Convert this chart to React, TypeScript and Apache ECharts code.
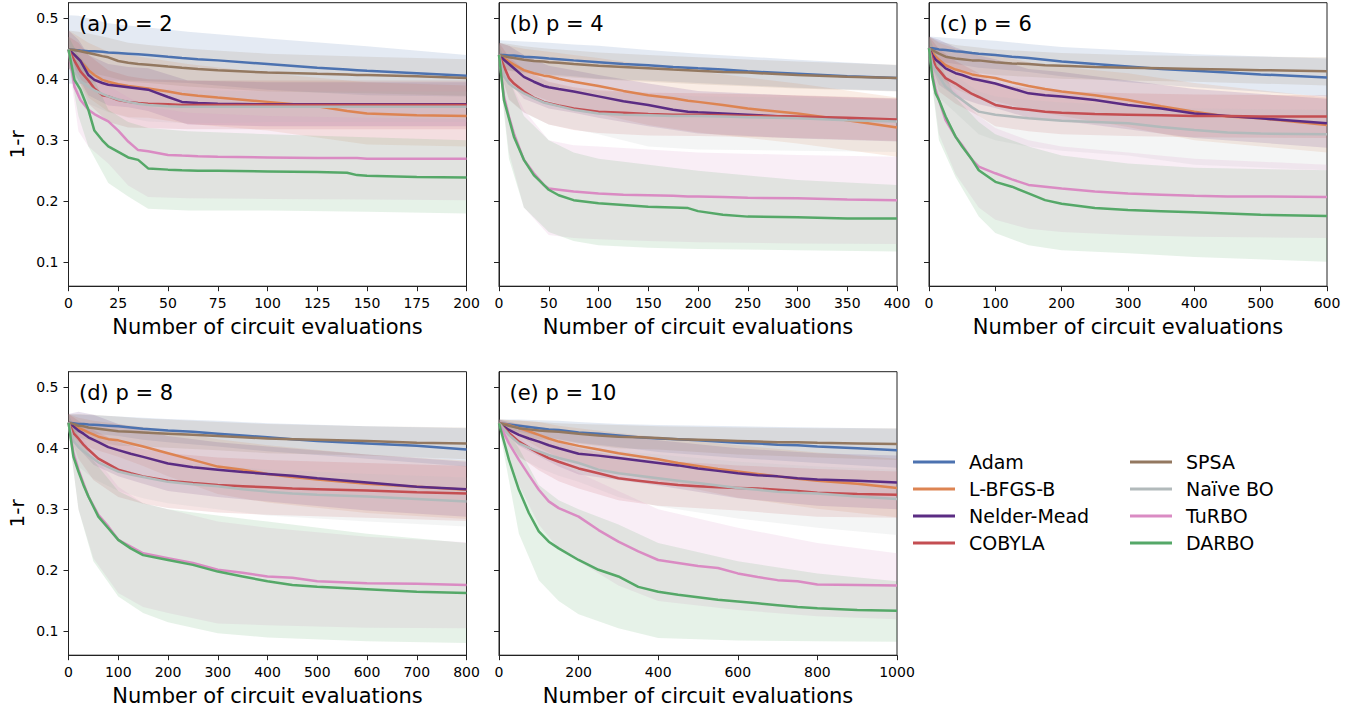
import React, { useEffect, useRef } from "react";
import * as echarts from "echarts";

// ---------- data ----------
const METHODS = ["Adam", "L-BFGS-B", "Nelder-Mead", "COBYLA", "SPSA", "Naïve BO", "TuRBO", "DARBO"];
const COLORS = ["#4C72B0", "#DD8452", "#5B2C83", "#C44E52", "#937860", "#B2BABB", "#DA8BC3", "#55A868"];
const PANEL_LABELS = ["(a) p = 2", "(b) p = 4", "(c) p = 6", "(d) p = 8", "(e) p = 10"];
const X_MAX = [200, 400, 600, 800, 1000];
const X_INTERVAL = [25, 50, 100, 100, 200];
const Y_TICKS = [0.1, 0.2, 0.3, 0.4, 0.5];
const Y_MIN = 0.061;
const Y_MAX = 0.5255;

// p = 2
const X2 = [0, 3, 6, 10, 13, 17, 20, 25, 30, 35, 40, 50, 57, 65, 75, 100, 125, 140, 145, 150, 175, 200];
const M2 = [
  [0.449, 0.448, 0.447, 0.446, 0.446, 0.445, 0.444, 0.443, 0.442, 0.441, 0.440, 0.437, 0.435, 0.433, 0.431, 0.425, 0.419, 0.416, 0.415, 0.414, 0.410, 0.406],
  [0.449, 0.440, 0.430, 0.415, 0.407, 0.399, 0.396, 0.392, 0.389, 0.387, 0.385, 0.380, 0.376, 0.373, 0.370, 0.363, 0.356, 0.348, 0.346, 0.344, 0.341, 0.340],
  [0.449, 0.440, 0.430, 0.407, 0.399, 0.394, 0.391, 0.389, 0.387, 0.385, 0.383, 0.371, 0.363, 0.361, 0.360, 0.359, 0.359, 0.359, 0.359, 0.359, 0.359, 0.359],
  [0.449, 0.430, 0.413, 0.398, 0.385, 0.374, 0.372, 0.366, 0.363, 0.361, 0.360, 0.359, 0.358, 0.358, 0.358, 0.358, 0.358, 0.358, 0.358, 0.358, 0.358, 0.358],
  [0.449, 0.448, 0.446, 0.443, 0.441, 0.438, 0.436, 0.430, 0.427, 0.425, 0.424, 0.421, 0.419, 0.417, 0.415, 0.411, 0.409, 0.408, 0.407, 0.407, 0.405, 0.402],
  [0.449, 0.415, 0.397, 0.388, 0.382, 0.376, 0.372, 0.367, 0.363, 0.360, 0.358, 0.356, 0.355, 0.355, 0.355, 0.355, 0.355, 0.355, 0.355, 0.355, 0.355, 0.355],
  [0.449, 0.388, 0.366, 0.350, 0.343, 0.336, 0.331, 0.316, 0.298, 0.284, 0.282, 0.276, 0.275, 0.274, 0.273, 0.272, 0.271, 0.271, 0.271, 0.270, 0.270, 0.270],
  [0.449, 0.399, 0.383, 0.350, 0.316, 0.300, 0.290, 0.281, 0.272, 0.268, 0.254, 0.252, 0.251, 0.250, 0.250, 0.249, 0.248, 0.247, 0.243, 0.242, 0.240, 0.239],
];
const BX2 = [0, 5, 10, 20, 30, 40, 60, 100, 150, 200];
const LO2 = [
  [0.393, 0.392, 0.394, 0.398, 0.398, 0.397, 0.394, 0.383, 0.374, 0.372],
  [0.418, 0.398, 0.370, 0.347, 0.338, 0.337, 0.327, 0.316, 0.293, 0.290],
  [0.418, 0.403, 0.374, 0.357, 0.354, 0.348, 0.326, 0.323, 0.323, 0.323],
  [0.428, 0.400, 0.360, 0.330, 0.321, 0.320, 0.318, 0.318, 0.318, 0.318],
  [0.418, 0.414, 0.411, 0.404, 0.396, 0.394, 0.388, 0.380, 0.377, 0.373],
  [0.430, 0.370, 0.360, 0.346, 0.337, 0.331, 0.328, 0.330, 0.330, 0.330],
  [0.430, 0.315, 0.290, 0.262, 0.226, 0.207, 0.205, 0.204, 0.203, 0.202],
  [0.430, 0.340, 0.290, 0.230, 0.208, 0.188, 0.185, 0.185, 0.183, 0.180],
];
const HI2 = [
  [0.505, 0.504, 0.500, 0.492, 0.488, 0.485, 0.478, 0.467, 0.454, 0.440],
  [0.480, 0.470, 0.460, 0.445, 0.440, 0.435, 0.425, 0.410, 0.395, 0.390],
  [0.480, 0.465, 0.440, 0.425, 0.420, 0.418, 0.398, 0.395, 0.395, 0.395],
  [0.470, 0.460, 0.440, 0.415, 0.405, 0.400, 0.398, 0.398, 0.398, 0.398],
  [0.480, 0.478, 0.475, 0.468, 0.460, 0.456, 0.450, 0.442, 0.437, 0.433],
  [0.470, 0.430, 0.415, 0.398, 0.390, 0.385, 0.382, 0.380, 0.380, 0.380],
  [0.470, 0.430, 0.410, 0.390, 0.370, 0.355, 0.345, 0.340, 0.337, 0.335],
  [0.470, 0.440, 0.420, 0.350, 0.330, 0.320, 0.315, 0.310, 0.305, 0.300],
];

// p = 4
const X4 = [0, 5, 10, 15, 25, 35, 45, 50, 60, 75, 100, 125, 150, 175, 190, 200, 225, 250, 300, 350, 400];
const M4 = [
  [0.440, 0.440, 0.439, 0.439, 0.437, 0.436, 0.435, 0.434, 0.433, 0.431, 0.428, 0.425, 0.423, 0.420, 0.419, 0.418, 0.416, 0.413, 0.409, 0.405, 0.402],
  [0.440, 0.435, 0.429, 0.424, 0.415, 0.410, 0.406, 0.405, 0.401, 0.396, 0.389, 0.381, 0.374, 0.369, 0.365, 0.363, 0.358, 0.352, 0.344, 0.333, 0.321],
  [0.440, 0.432, 0.425, 0.418, 0.404, 0.396, 0.389, 0.387, 0.384, 0.380, 0.372, 0.364, 0.358, 0.350, 0.347, 0.346, 0.344, 0.342, 0.338, 0.334, 0.333],
  [0.440, 0.421, 0.402, 0.393, 0.380, 0.370, 0.363, 0.361, 0.357, 0.352, 0.347, 0.345, 0.343, 0.342, 0.342, 0.342, 0.341, 0.340, 0.339, 0.337, 0.334],
  [0.440, 0.438, 0.436, 0.435, 0.432, 0.430, 0.429, 0.428, 0.427, 0.425, 0.422, 0.420, 0.418, 0.416, 0.415, 0.414, 0.412, 0.411, 0.407, 0.404, 0.402],
  [0.440, 0.405, 0.393, 0.387, 0.377, 0.369, 0.362, 0.360, 0.356, 0.350, 0.344, 0.342, 0.341, 0.340, 0.340, 0.340, 0.339, 0.338, 0.336, 0.333, 0.331],
  [0.440, 0.372, 0.339, 0.311, 0.268, 0.246, 0.227, 0.221, 0.219, 0.216, 0.213, 0.211, 0.210, 0.209, 0.208, 0.208, 0.207, 0.206, 0.205, 0.203, 0.202],
  [0.440, 0.366, 0.336, 0.306, 0.268, 0.243, 0.227, 0.219, 0.210, 0.202, 0.197, 0.194, 0.191, 0.190, 0.189, 0.184, 0.178, 0.175, 0.174, 0.172, 0.172],
];
const BX4 = [0, 10, 25, 50, 75, 100, 150, 200, 300, 400];
const LO4 = [
  [0.416, 0.415, 0.412, 0.408, 0.405, 0.401, 0.398, 0.394, 0.386, 0.381],
  [0.420, 0.403, 0.380, 0.365, 0.352, 0.343, 0.325, 0.313, 0.295, 0.273],
  [0.420, 0.395, 0.368, 0.352, 0.345, 0.337, 0.323, 0.311, 0.303, 0.298],
  [0.420, 0.367, 0.346, 0.326, 0.317, 0.312, 0.308, 0.307, 0.304, 0.299],
  [0.420, 0.414, 0.410, 0.406, 0.403, 0.400, 0.396, 0.392, 0.385, 0.380],
  [0.420, 0.366, 0.345, 0.326, 0.318, 0.310, 0.290, 0.285, 0.283, 0.281],
  [0.420, 0.280, 0.190, 0.145, 0.140, 0.138, 0.135, 0.133, 0.131, 0.130],
  [0.420, 0.270, 0.190, 0.150, 0.135, 0.128, 0.124, 0.122, 0.120, 0.118],
];
const HI4 = [
  [0.464, 0.463, 0.462, 0.460, 0.457, 0.455, 0.448, 0.442, 0.432, 0.423],
  [0.460, 0.455, 0.450, 0.445, 0.440, 0.435, 0.423, 0.413, 0.393, 0.370],
  [0.460, 0.455, 0.440, 0.422, 0.415, 0.407, 0.393, 0.381, 0.373, 0.368],
  [0.460, 0.437, 0.416, 0.396, 0.387, 0.382, 0.378, 0.377, 0.374, 0.369],
  [0.460, 0.458, 0.454, 0.450, 0.447, 0.444, 0.440, 0.436, 0.429, 0.424],
  [0.460, 0.420, 0.410, 0.395, 0.385, 0.380, 0.375, 0.372, 0.370, 0.366],
  [0.460, 0.400, 0.350, 0.300, 0.292, 0.290, 0.285, 0.280, 0.276, 0.273],
  [0.460, 0.400, 0.340, 0.300, 0.280, 0.270, 0.260, 0.250, 0.235, 0.227],
];

// p = 6
const X6 = [0, 5, 10, 15, 25, 40, 50, 65, 75, 100, 125, 150, 175, 200, 250, 300, 350, 400, 450, 500, 600];
const M6 = [
  [0.451, 0.451, 0.450, 0.449, 0.448, 0.446, 0.445, 0.443, 0.442, 0.440, 0.437, 0.435, 0.432, 0.429, 0.425, 0.421, 0.417, 0.414, 0.411, 0.408, 0.403],
  [0.451, 0.444, 0.437, 0.432, 0.423, 0.416, 0.413, 0.408, 0.406, 0.402, 0.395, 0.389, 0.384, 0.380, 0.374, 0.366, 0.356, 0.347, 0.339, 0.336, 0.325],
  [0.451, 0.440, 0.432, 0.428, 0.418, 0.410, 0.407, 0.401, 0.399, 0.393, 0.385, 0.377, 0.374, 0.372, 0.366, 0.358, 0.352, 0.344, 0.340, 0.336, 0.328],
  [0.451, 0.435, 0.421, 0.415, 0.402, 0.393, 0.386, 0.376, 0.371, 0.358, 0.353, 0.350, 0.347, 0.345, 0.343, 0.342, 0.341, 0.340, 0.340, 0.339, 0.339],
  [0.451, 0.448, 0.445, 0.442, 0.437, 0.434, 0.433, 0.431, 0.431, 0.428, 0.426, 0.425, 0.423, 0.422, 0.420, 0.419, 0.418, 0.417, 0.416, 0.415, 0.413],
  [0.451, 0.425, 0.413, 0.405, 0.388, 0.374, 0.366, 0.354, 0.347, 0.342, 0.339, 0.336, 0.334, 0.332, 0.330, 0.328, 0.322, 0.317, 0.313, 0.311, 0.310],
  [0.451, 0.410, 0.383, 0.366, 0.333, 0.306, 0.292, 0.268, 0.257, 0.246, 0.236, 0.227, 0.224, 0.221, 0.216, 0.213, 0.211, 0.209, 0.208, 0.208, 0.207],
  [0.451, 0.404, 0.377, 0.366, 0.339, 0.306, 0.290, 0.268, 0.251, 0.232, 0.224, 0.213, 0.202, 0.196, 0.189, 0.186, 0.184, 0.182, 0.180, 0.178, 0.176],
];
const BX6 = [0, 15, 40, 75, 100, 150, 200, 300, 400, 600];
const LO6 = [
  [0.432, 0.429, 0.425, 0.419, 0.417, 0.412, 0.405, 0.395, 0.387, 0.372],
  [0.432, 0.404, 0.384, 0.368, 0.364, 0.350, 0.340, 0.322, 0.300, 0.280],
  [0.432, 0.391, 0.372, 0.359, 0.353, 0.337, 0.332, 0.318, 0.304, 0.288],
  [0.432, 0.380, 0.360, 0.340, 0.323, 0.315, 0.310, 0.307, 0.305, 0.304],
  [0.432, 0.422, 0.416, 0.410, 0.407, 0.404, 0.401, 0.398, 0.396, 0.390],
  [0.432, 0.370, 0.345, 0.310, 0.300, 0.290, 0.283, 0.275, 0.260, 0.251],
  [0.432, 0.310, 0.245, 0.190, 0.170, 0.155, 0.150, 0.145, 0.142, 0.140],
  [0.432, 0.300, 0.240, 0.175, 0.148, 0.128, 0.120, 0.115, 0.109, 0.101],
];
const HI6 = [
  [0.470, 0.469, 0.467, 0.465, 0.463, 0.458, 0.453, 0.447, 0.441, 0.434],
  [0.470, 0.460, 0.450, 0.440, 0.440, 0.428, 0.420, 0.410, 0.394, 0.370],
  [0.470, 0.465, 0.452, 0.439, 0.433, 0.417, 0.412, 0.398, 0.384, 0.368],
  [0.470, 0.450, 0.430, 0.410, 0.393, 0.385, 0.380, 0.377, 0.375, 0.374],
  [0.470, 0.462, 0.456, 0.452, 0.449, 0.446, 0.443, 0.440, 0.438, 0.436],
  [0.470, 0.430, 0.405, 0.380, 0.372, 0.366, 0.362, 0.358, 0.352, 0.350],
  [0.470, 0.420, 0.380, 0.340, 0.320, 0.300, 0.290, 0.280, 0.270, 0.260],
  [0.470, 0.430, 0.370, 0.330, 0.310, 0.290, 0.275, 0.262, 0.255, 0.251],
];

// p = 8
const X8 = [0, 10, 20, 30, 40, 60, 80, 100, 125, 150, 200, 250, 300, 350, 400, 450, 500, 600, 700, 800];
const M8 = [
  [0.442, 0.441, 0.440, 0.440, 0.439, 0.438, 0.437, 0.436, 0.434, 0.432, 0.429, 0.427, 0.424, 0.421, 0.418, 0.415, 0.412, 0.408, 0.404, 0.398],
  [0.442, 0.438, 0.433, 0.430, 0.426, 0.419, 0.415, 0.413, 0.408, 0.403, 0.392, 0.381, 0.370, 0.365, 0.358, 0.353, 0.349, 0.342, 0.337, 0.332],
  [0.442, 0.436, 0.429, 0.424, 0.418, 0.410, 0.402, 0.397, 0.391, 0.386, 0.375, 0.369, 0.365, 0.361, 0.358, 0.355, 0.351, 0.344, 0.337, 0.333],
  [0.442, 0.425, 0.416, 0.406, 0.398, 0.383, 0.374, 0.365, 0.359, 0.354, 0.347, 0.343, 0.340, 0.338, 0.336, 0.334, 0.333, 0.331, 0.328, 0.326],
  [0.442, 0.440, 0.437, 0.436, 0.434, 0.432, 0.430, 0.428, 0.427, 0.426, 0.424, 0.422, 0.420, 0.418, 0.416, 0.415, 0.414, 0.412, 0.409, 0.408],
  [0.442, 0.412, 0.402, 0.395, 0.389, 0.377, 0.369, 0.362, 0.357, 0.353, 0.345, 0.341, 0.338, 0.333, 0.329, 0.326, 0.324, 0.321, 0.317, 0.313],
  [0.442, 0.392, 0.365, 0.343, 0.321, 0.291, 0.272, 0.250, 0.239, 0.228, 0.220, 0.212, 0.201, 0.196, 0.190, 0.188, 0.182, 0.179, 0.178, 0.176],
  [0.442, 0.386, 0.362, 0.340, 0.321, 0.288, 0.269, 0.250, 0.236, 0.225, 0.217, 0.209, 0.198, 0.190, 0.182, 0.176, 0.173, 0.169, 0.165, 0.163],
];
const BX8 = [0, 20, 50, 100, 150, 200, 300, 400, 600, 800];
const LO8 = [
  [0.429, 0.425, 0.424, 0.420, 0.414, 0.410, 0.403, 0.395, 0.383, 0.370],
  [0.428, 0.410, 0.399, 0.386, 0.371, 0.354, 0.325, 0.311, 0.294, 0.284],
  [0.428, 0.400, 0.373, 0.354, 0.342, 0.330, 0.320, 0.313, 0.298, 0.288],
  [0.428, 0.383, 0.348, 0.320, 0.309, 0.302, 0.295, 0.291, 0.286, 0.281],
  [0.428, 0.418, 0.411, 0.404, 0.403, 0.401, 0.397, 0.392, 0.388, 0.382],
  [0.428, 0.370, 0.350, 0.330, 0.318, 0.310, 0.300, 0.290, 0.280, 0.272],
  [0.428, 0.300, 0.220, 0.163, 0.140, 0.130, 0.113, 0.110, 0.106, 0.105],
  [0.428, 0.300, 0.215, 0.157, 0.130, 0.115, 0.097, 0.090, 0.084, 0.081],
];
const HI8 = [
  [0.455, 0.455, 0.454, 0.452, 0.450, 0.448, 0.445, 0.441, 0.436, 0.433],
  [0.456, 0.450, 0.445, 0.440, 0.435, 0.430, 0.415, 0.405, 0.390, 0.380],
  [0.456, 0.460, 0.455, 0.440, 0.430, 0.420, 0.410, 0.403, 0.390, 0.378],
  [0.456, 0.445, 0.430, 0.410, 0.399, 0.392, 0.385, 0.381, 0.376, 0.371],
  [0.456, 0.456, 0.455, 0.452, 0.449, 0.447, 0.443, 0.440, 0.436, 0.434],
  [0.456, 0.430, 0.410, 0.395, 0.385, 0.378, 0.372, 0.365, 0.358, 0.352],
  [0.456, 0.430, 0.390, 0.337, 0.310, 0.300, 0.280, 0.270, 0.255, 0.246],
  [0.456, 0.420, 0.380, 0.330, 0.310, 0.300, 0.290, 0.280, 0.260, 0.245],
];

// p = 10
const X10 = [0, 25, 50, 75, 100, 125, 150, 200, 250, 300, 350, 400, 450, 500, 550, 600, 650, 700, 750, 800, 900, 1000];
const M10 = [
  [0.441, 0.439, 0.437, 0.435, 0.433, 0.431, 0.430, 0.426, 0.424, 0.421, 0.418, 0.416, 0.415, 0.413, 0.411, 0.409, 0.408, 0.406, 0.405, 0.403, 0.400, 0.397],
  [0.441, 0.438, 0.433, 0.428, 0.422, 0.416, 0.411, 0.404, 0.398, 0.392, 0.387, 0.382, 0.376, 0.371, 0.366, 0.362, 0.358, 0.354, 0.350, 0.347, 0.342, 0.335],
  [0.441, 0.430, 0.422, 0.416, 0.411, 0.405, 0.400, 0.391, 0.388, 0.384, 0.380, 0.376, 0.372, 0.367, 0.363, 0.359, 0.356, 0.354, 0.351, 0.349, 0.347, 0.344],
  [0.441, 0.425, 0.411, 0.401, 0.392, 0.384, 0.378, 0.367, 0.359, 0.351, 0.347, 0.343, 0.340, 0.338, 0.336, 0.335, 0.334, 0.332, 0.330, 0.327, 0.325, 0.324],
  [0.441, 0.437, 0.433, 0.431, 0.429, 0.428, 0.427, 0.424, 0.421, 0.419, 0.418, 0.417, 0.415, 0.414, 0.413, 0.412, 0.411, 0.410, 0.410, 0.409, 0.408, 0.407],
  [0.441, 0.422, 0.408, 0.401, 0.395, 0.389, 0.384, 0.376, 0.365, 0.359, 0.355, 0.351, 0.347, 0.343, 0.339, 0.335, 0.332, 0.329, 0.327, 0.326, 0.321, 0.317],
  [0.441, 0.408, 0.381, 0.356, 0.332, 0.313, 0.302, 0.288, 0.266, 0.247, 0.231, 0.217, 0.212, 0.207, 0.204, 0.195, 0.189, 0.184, 0.182, 0.177, 0.176, 0.175],
  [0.441, 0.381, 0.332, 0.294, 0.264, 0.247, 0.236, 0.217, 0.201, 0.190, 0.173, 0.165, 0.160, 0.156, 0.152, 0.149, 0.146, 0.143, 0.140, 0.138, 0.135, 0.134],
];
const BX10 = [0, 50, 100, 150, 200, 300, 400, 600, 800, 1000];
const LO10 = [
  [0.435, 0.427, 0.420, 0.415, 0.409, 0.402, 0.394, 0.384, 0.376, 0.368],
  [0.435, 0.420, 0.401, 0.385, 0.375, 0.359, 0.346, 0.319, 0.301, 0.287],
  [0.435, 0.404, 0.387, 0.370, 0.357, 0.348, 0.339, 0.318, 0.306, 0.300],
  [0.435, 0.387, 0.364, 0.346, 0.334, 0.315, 0.306, 0.298, 0.288, 0.286],
  [0.435, 0.421, 0.415, 0.413, 0.408, 0.400, 0.398, 0.390, 0.385, 0.381],
  [0.435, 0.385, 0.368, 0.355, 0.345, 0.320, 0.305, 0.285, 0.270, 0.258],
  [0.435, 0.340, 0.275, 0.235, 0.215, 0.175, 0.150, 0.135, 0.125, 0.120],
  [0.435, 0.260, 0.184, 0.150, 0.128, 0.105, 0.089, 0.085, 0.084, 0.083],
];
const HI10 = [
  [0.447, 0.447, 0.446, 0.445, 0.443, 0.440, 0.438, 0.436, 0.434, 0.432],
  [0.447, 0.446, 0.443, 0.437, 0.433, 0.425, 0.418, 0.405, 0.393, 0.383],
  [0.447, 0.440, 0.435, 0.430, 0.425, 0.420, 0.413, 0.400, 0.392, 0.388],
  [0.447, 0.435, 0.420, 0.410, 0.400, 0.387, 0.380, 0.372, 0.366, 0.362],
  [0.447, 0.445, 0.443, 0.441, 0.440, 0.438, 0.436, 0.434, 0.433, 0.433],
  [0.447, 0.430, 0.420, 0.410, 0.405, 0.395, 0.390, 0.378, 0.370, 0.365],
  [0.447, 0.420, 0.390, 0.375, 0.360, 0.330, 0.300, 0.270, 0.245, 0.228],
  [0.447, 0.400, 0.340, 0.315, 0.300, 0.275, 0.245, 0.215, 0.195, 0.182],
];

const PANEL_X = [X2, X4, X6, X8, X10];
const PANEL_M = [M2, M4, M6, M8, M10];
const PANEL_BX = [BX2, BX4, BX6, BX8, BX10];
const PANEL_LO = [LO2, LO4, LO6, LO8, LO10];
const PANEL_HI = [HI2, HI4, HI6, HI8, HI10];

// ---------- layout ----------
const GRID_LEFT = [68.5, 499, 929, 68.5, 499];
const GRID_TOP = [2.7, 2.7, 2.7, 371.7, 371.7];
const GRID_W = 398;
const GRID_H = 283.5;
const FONT = "DejaVu Sans";

function buildOption() {
  const grid: any[] = [];
  const xAxis: any[] = [];
  const yAxis: any[] = [];
  const series: any[] = [];
  const title: any[] = [];

  for (let p = 0; p < 5; p++) {
    const showY = p === 0 || p === 3;
    grid.push({
      left: GRID_LEFT[p],
      top: GRID_TOP[p],
      width: GRID_W,
      height: GRID_H,
      show: true,
      borderColor: "#222",
      borderWidth: 1,
      backgroundColor: "transparent",
    });
    xAxis.push({
      type: "value",
      gridIndex: p,
      min: 0,
      max: X_MAX[p],
      interval: X_INTERVAL[p],
      name: "Number of circuit evaluations",
      nameLocation: "middle",
      nameGap: 30,
      nameTextStyle: { fontSize: 21, color: "#000", fontFamily: FONT },
      axisLine: { show: true, onZero: false, lineStyle: { color: "#222", width: 1 } },
      axisTick: { show: true, inside: false, length: 5, lineStyle: { color: "#222" } },
      axisLabel: {
        show: true,
        fontSize: 14,
        color: "#000",
        margin: 10,
        fontFamily: FONT,
        formatter: (v: number) => String(v),
      },
      splitLine: { show: false },
    });
    yAxis.push({
      type: "value",
      gridIndex: p,
      min: Y_MIN,
      max: Y_MAX,
      name: showY ? "1-r" : "",
      nameLocation: "middle",
      nameGap: 42,
      nameTextStyle: { fontSize: 20, color: "#000", fontFamily: FONT },
      axisLine: { show: true, onZero: false, lineStyle: { color: "#222", width: 1 } },
      axisTick: { show: true, inside: false, length: 5, customValues: Y_TICKS, lineStyle: { color: "#222" } },
      axisLabel: {
        show: showY,
        customValues: Y_TICKS,
        fontSize: 14,
        color: "#000",
        margin: 10,
        fontFamily: FONT,
        formatter: (v: number) => v.toFixed(1),
      },
      splitLine: { show: false },
    });
    title.push({
      text: PANEL_LABELS[p],
      left: GRID_LEFT[p] + 10.5,
      top: GRID_TOP[p] + 11,
      padding: 0,
      textStyle: { fontSize: 21, fontWeight: "normal", color: "#000", fontFamily: FONT },
    });

    const bx = PANEL_BX[p];
    for (let m = 0; m < METHODS.length; m++) {
      const lo = PANEL_LO[p][m];
      const hi = PANEL_HI[p][m];
      const color = COLORS[m];
      series.push({
        type: "custom",
        name: METHODS[m] + " band",
        xAxisIndex: p,
        yAxisIndex: p,
        z: 1,
        silent: true,
        clip: true,
        data: [[bx[0], lo[0]]],
        renderItem: (_params: any, api: any) => {
          const pts: number[][] = [];
          for (let i = 0; i < bx.length; i++) pts.push(api.coord([bx[i], hi[i]]));
          for (let i = bx.length - 1; i >= 0; i--) pts.push(api.coord([bx[i], lo[i]]));
          return {
            type: "polygon",
            shape: { points: pts },
            style: { fill: color, opacity: 0.15 },
            silent: true,
          };
        },
      });
    }
    const xs = PANEL_X[p];
    for (let m = 0; m < METHODS.length; m++) {
      const ys = PANEL_M[p][m];
      series.push({
        type: "line",
        name: METHODS[m],
        xAxisIndex: p,
        yAxisIndex: p,
        z: 3,
        silent: true,
        symbol: "none",
        showSymbol: false,
        color: COLORS[m],
        lineStyle: { color: COLORS[m], width: 2.5 },
        itemStyle: { color: COLORS[m] },
        emphasis: { disabled: true },
        data: xs.map((x, i) => [x, ys[i]]),
      });
    }
  }

  const legendCommon = {
    orient: "vertical",
    top: 452.5,
    icon: "rect",
    itemWidth: 42,
    itemHeight: 3,
    itemGap: 8,
    selectedMode: false,
    padding: 0,
    textStyle: { fontSize: 19, lineHeight: 19, color: "#000", fontFamily: FONT, padding: [0, 0, 0, 9] },
  };

  return {
    animation: false,
    backgroundColor: "#fff",
    textStyle: { fontFamily: FONT },
    title,
    grid,
    xAxis,
    yAxis,
    legend: [
      { ...legendCommon, left: 913, data: METHODS.slice(0, 4) },
      { ...legendCommon, left: 1130, data: METHODS.slice(4, 8) },
    ],
    series,
  };
}

export default function App() {
  const ref = useRef<HTMLDivElement>(null);
  useEffect(() => {
    document.body.style.margin = "0";
    if (!ref.current) return;
    const chart = echarts.init(ref.current, undefined, { renderer: "svg" });
    chart.setOption(buildOption() as any);
    return () => chart.dispose();
  }, []);
  return <div ref={ref} style={{ width: 1369, height: 712 }} />;
}
